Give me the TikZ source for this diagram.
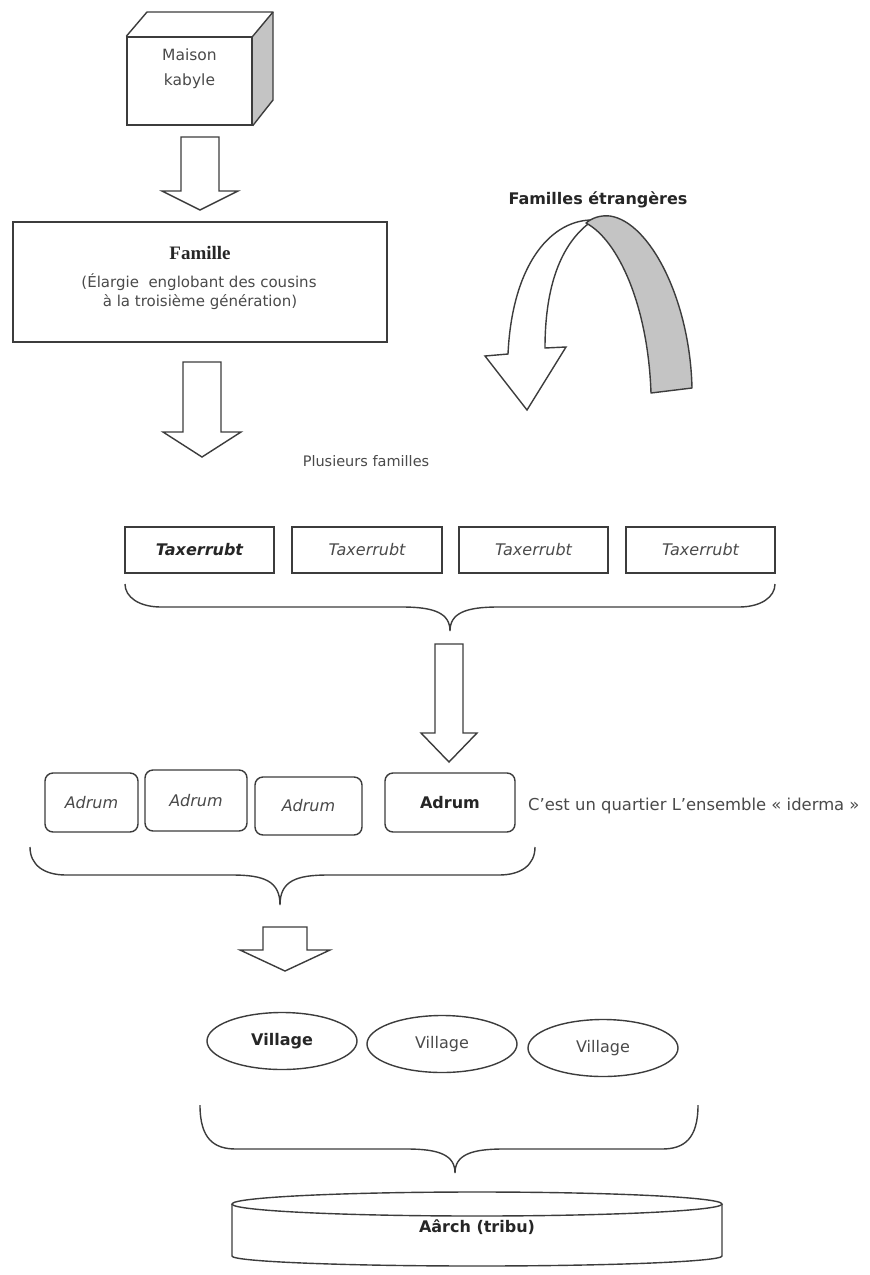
\documentclass[tikz,border=0pt]{standalone}
\usepackage{fontspec}
\setmainfont{DejaVu Sans}
\newfontfamily\serifb{Liberation Serif}
\usetikzlibrary{shapes.geometric}
\definecolor{ink}{HTML}{3C3C3C}
\definecolor{txtc}{HTML}{4A4A4A}
\definecolor{sidegrey}{HTML}{C4C4C4}
\newcommand{\blockarrow}[6]{%
  \draw[ln, fill=white, line join=miter] ({#1-#3},#2) -- ({#1+#3},#2) -- ({#1+#3},#4) -- ({#1+#5},#4) -- (#1,#6) -- ({#1-#5},#4) -- ({#1-#3},#4) -- cycle;}
\newcommand{\bracepath}[6]{%
  \draw[ln] (#1,#2) .. controls (#1,{#4-10}) and ({#1+14},#4) .. ({#1+36},#4) -- ({#5-48},#4) .. controls ({#5-16},#4) and (#5,{#4+6}) .. (#5,#6) .. controls (#5,{#4+6}) and ({#5+16},#4) .. ({#5+48},#4) -- ({#3-36},#4) .. controls ({#3-14},#4) and (#3,{#4-10}) .. (#3,#2);}
\begin{document}
\begin{tikzpicture}[x=1pt,y=-1pt,
  ln/.style={draw=ink, line width=1.4pt},
  tx/.style={text=txtc, font=\fontsize{16}{19}\selectfont, inner sep=0pt},
  txb/.style={text=black!85, font=\fontsize{16}{19}\selectfont\bfseries, inner sep=0pt},
  sqbox/.style={ln, rectangle, fill=white, inner sep=0pt},
  rbox/.style={ln, rectangle, rounded corners=8pt, fill=white, inner sep=0pt},
  vill/.style={ln, ellipse, fill=white, inner sep=0pt, minimum width=150pt, minimum height=57pt}]
\useasboundingbox (0,0) rectangle (870,1275);
\fill[white] (0,0) rectangle (870,1275);

% Maison kabyle (cube)
\fill[sidegrey] (252,37) -- (273,12) -- (273,100) -- (252,125) -- cycle;
\node[sqbox, minimum width=125pt, minimum height=88pt] (maison) at (189.5,81) {};
\draw[ln, line join=round] (maison.north west) -- (147,12) -- (273,12) -- (maison.north east);
\draw[ln, line join=round] (273,12) -- (273,100) -- (maison.south east);
\node[tx, align=center, font=\fontsize{15.5}{25}\selectfont] (maisontxt) at (189.5,69) {Maison\\kabyle};

\blockarrow{200}{137}{19}{191}{38}{210}

% Famille
\node[sqbox, minimum width=374pt, minimum height=120pt] (famille) at (200,282) {};
\node[inner sep=0pt, text=black!85, font=\fontsize{19}{22}\selectfont\serifb\bfseries] (famt) at (200,253) {Famille};
\node[tx, font=\fontsize{15}{19}\selectfont] (fam1) at (199,282) {(Élargie~ englobant des cousins};
\node[tx, font=\fontsize{15}{19}\selectfont] (fam2) at (200,302) {à la troisième génération)};

\blockarrow{202}{362}{19}{432}{39}{457}

% Familles etrangeres
\node[txb] (etr) at (598,200) {Familles étrangères};
\draw[ln, fill=white, line join=miter] (590,220) .. controls (548,222) and (512,268) .. (508,354) -- (485,356) -- (527,410) -- (566,347) -- (545,348) .. controls (545,292) and (558,248) .. (588,224) -- cycle;
\draw[ln, fill=sidegrey, line join=round] (586,223) .. controls (618,240) and (648,305) .. (651,393) -- (692,388) .. controls (690,300) and (650,222) .. (610,216) .. controls (600,215) and (592,218) .. (586,223) -- cycle;

\node[tx, font=\fontsize{14.5}{18}\selectfont] (plus) at (366,461) {Plusieurs familles};

% Taxerrubt
\node[sqbox, minimum width=149pt, minimum height=46pt, font=\fontsize{16}{19}\selectfont\bfseries\itshape, text=black!85] (t1) at (199.5,550) {Taxerrubt};
\node[sqbox, minimum width=150pt, minimum height=46pt, font=\fontsize{16}{19}\selectfont\itshape, text=txtc] (t2) at (367,550) {Taxerrubt};
\node[sqbox, minimum width=149pt, minimum height=46pt, font=\fontsize{16}{19}\selectfont\itshape, text=txtc] (t3) at (533.5,550) {Taxerrubt};
\node[sqbox, minimum width=149pt, minimum height=46pt, font=\fontsize{16}{19}\selectfont\itshape, text=txtc] (t4) at (700.5,550) {Taxerrubt};
\bracepath{125}{584}{775}{607}{450}{631}

\blockarrow{449}{644}{14}{733}{28}{762}

% Adrum
\node[rbox, minimum width=93pt, minimum height=59pt, font=\fontsize{16}{19}\selectfont\itshape, text=txtc] (a1) at (91.5,802.5) {Adrum};
\node[rbox, minimum width=102pt, minimum height=61pt, font=\fontsize{16}{19}\selectfont\itshape, text=txtc] (a2) at (196,800.5) {Adrum};
\node[rbox, minimum width=107pt, minimum height=58pt, font=\fontsize{16}{19}\selectfont\itshape, text=txtc] (a3) at (308.5,806) {Adrum};
\node[rbox, minimum width=130pt, minimum height=59pt, font=\fontsize{16}{19}\selectfont\bfseries, text=black!85] (a4) at (450,802.5) {Adrum};
\node[tx, anchor=west, font=\fontsize{16.4}{19}\selectfont] (quart) at (528,806) {C'est un quartier L'ensemble « iderma »};
\bracepath{30}{847}{535}{875}{280}{905}

\blockarrow{285}{927}{22}{950}{45}{971}

% Villages
\node[vill, font=\fontsize{16}{19}\selectfont\bfseries, text=black!85] (v1) at (282,1041) {Village};
\node[vill, font=\fontsize{16}{19}\selectfont, text=txtc] (v2) at (442,1044) {Village};
\node[vill, font=\fontsize{16}{19}\selectfont, text=txtc] (v3) at (603,1048) {Village};
\bracepath{200}{1105}{698}{1149}{455}{1173}

% Aarch cylinder
\draw[ln, fill=white] (232,1204) -- (232,1256) .. controls (232,1261.5) and (342,1266) .. (477,1266) .. controls (612,1266) and (722,1261.5) .. (722,1256) -- (722,1204);
\draw[ln, fill=white] (477,1204) ellipse [x radius=245, y radius=12];
\node[txb] (aarch) at (477,1227) {Aârch (tribu)};
\end{tikzpicture}
\end{document}
